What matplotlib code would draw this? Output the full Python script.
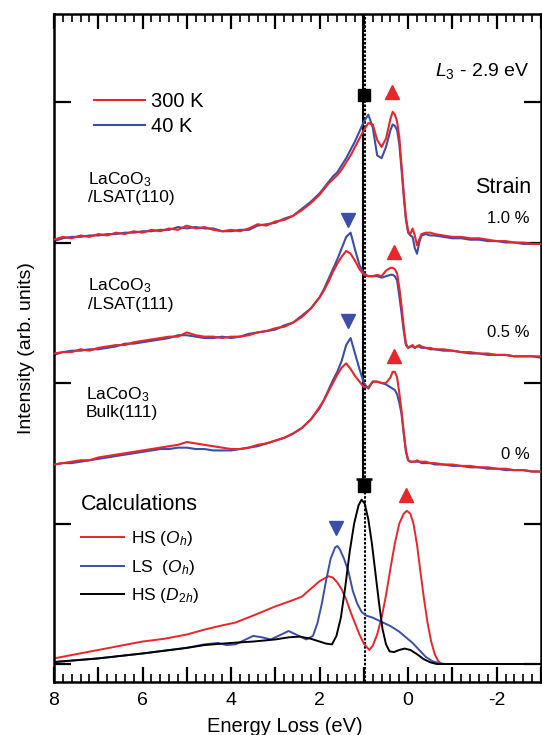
import matplotlib
matplotlib.use('Agg')
import matplotlib.pyplot as plt
from matplotlib.ticker import MultipleLocator, FuncFormatter

plt.rcParams['font.family'] = ['Liberation Sans', 'DejaVu Sans']
plt.rcParams['mathtext.fontset'] = 'custom'
plt.rcParams['mathtext.rm'] = 'Liberation Sans'
plt.rcParams['mathtext.it'] = 'Liberation Sans:italic'
plt.rcParams['mathtext.bf'] = 'Liberation Sans:bold'
plt.rcParams['axes.unicode_minus'] = False

RED = '#e8262b'
BLUE = '#3b4ea8'

# energy grid of the measured spectra (eV)
e_exp = [8.0, 7.8, 7.6, 7.4, 7.2, 7.0, 6.8, 6.6, 6.4, 6.2, 6.0, 5.8, 5.6, 5.4, 5.2, 5.0,
         4.8, 4.6, 4.4, 4.2, 4.0, 3.8, 3.6, 3.4, 3.2, 3.0, 2.8, 2.6, 2.4, 2.2, 2.0,
         1.9, 1.8, 1.7, 1.6, 1.5, 1.4, 1.3, 1.2, 1.1, 1.0, 0.9, 0.8, 0.7, 0.6, 0.5, 0.4,
         0.35, 0.3, 0.25, 0.2, 0.15, 0.1, 0.05, 0.0, -0.05, -0.1, -0.15, -0.2, -0.25, -0.3,
         -0.4, -0.5, -0.6,
         -0.8, -1.0, -1.2, -1.4, -1.6, -1.8, -2.0, -2.2, -2.4, -2.6, -2.8, -3.0]

# LaCoO3/LSAT(110), strain 1.0 %
lsat110_300k = [3.02, 3.04, 3.03, 3.05, 3.04, 3.06, 3.05, 3.07, 3.06, 3.08, 3.07, 3.09, 3.08, 3.10, 3.09, 3.12,
                3.10, 3.11, 3.09, 3.08, 3.09, 3.08, 3.10, 3.13, 3.12, 3.15, 3.16, 3.19, 3.23, 3.28, 3.34,
                3.38, 3.42, 3.45, 3.48, 3.52, 3.57, 3.62, 3.68, 3.74, 3.80, 3.85, 3.84, 3.73, 3.68, 3.74, 3.88,
                3.93, 3.91, 3.86, 3.75, 3.55, 3.35, 3.18, 3.08, 3.06, 3.10, 3.05, 2.98, 3.02, 3.06,
                3.07, 3.07, 3.06,
                3.05, 3.04, 3.04, 3.03, 3.03, 3.02, 3.01, 3.01, 3.00, 3.00, 2.99, 2.99]
lsat110_40k = [3.01, 3.03, 3.04, 3.04, 3.05, 3.05, 3.06, 3.06, 3.07, 3.07, 3.08, 3.08, 3.09, 3.09, 3.11, 3.10,
               3.11, 3.10, 3.10, 3.08, 3.08, 3.09, 3.09, 3.12, 3.13, 3.14, 3.17, 3.19, 3.24, 3.29, 3.35,
               3.39, 3.43, 3.47, 3.50, 3.55, 3.60, 3.66, 3.72, 3.79, 3.86, 3.91, 3.82, 3.62, 3.60, 3.68, 3.80,
               3.84, 3.83, 3.80, 3.70, 3.52, 3.33, 3.16, 3.07, 3.05, 3.04, 2.96, 2.92, 3.00, 3.05,
               3.06, 3.05, 3.05,
               3.04, 3.03, 3.03, 3.02, 3.02, 3.01, 3.01, 3.00, 3.00, 2.99, 2.99, 2.99]

# LaCoO3/LSAT(111), strain 0.5 %
lsat111_300k = [2.21, 2.22, 2.22, 2.24, 2.23, 2.25, 2.26, 2.27, 2.27, 2.29, 2.30, 2.31, 2.32, 2.33, 2.33, 2.36,
                2.34, 2.33, 2.33, 2.32, 2.33, 2.33, 2.34, 2.36, 2.37, 2.39, 2.40, 2.43, 2.47, 2.53, 2.61,
                2.66, 2.72, 2.79, 2.85, 2.90, 2.94, 2.92, 2.87, 2.81, 2.77, 2.76, 2.76, 2.77, 2.76, 2.80, 2.82,
                2.82, 2.81, 2.78, 2.68, 2.55, 2.40, 2.28, 2.25, 2.26, 2.27, 2.25, 2.26, 2.27, 2.26,
                2.25, 2.25, 2.24,
                2.24, 2.23, 2.22, 2.22, 2.21, 2.21, 2.20, 2.20, 2.19, 2.19, 2.19, 2.19]
lsat111_40k = [2.20, 2.22, 2.23, 2.23, 2.24, 2.24, 2.25, 2.26, 2.28, 2.28, 2.29, 2.30, 2.31, 2.32, 2.34, 2.34,
               2.33, 2.32, 2.32, 2.33, 2.32, 2.33, 2.35, 2.36, 2.37, 2.38, 2.41, 2.43, 2.48, 2.53, 2.61,
               2.67, 2.74, 2.81, 2.88, 2.96, 3.04, 3.07, 2.95, 2.84, 2.78, 2.76, 2.76, 2.76, 2.75, 2.76, 2.77,
               2.77, 2.76, 2.73, 2.62, 2.50, 2.37, 2.27, 2.25, 2.26, 2.26, 2.25, 2.26, 2.26, 2.25,
               2.25, 2.24, 2.24,
               2.23, 2.23, 2.22, 2.21, 2.21, 2.20, 2.20, 2.20, 2.19, 2.19, 2.19, 2.18]

# LaCoO3 Bulk(111), strain 0 %
bulk_300k = [1.42, 1.43, 1.44, 1.45, 1.45, 1.47, 1.48, 1.49, 1.50, 1.51, 1.52, 1.53, 1.54, 1.55, 1.56, 1.58,
             1.57, 1.56, 1.55, 1.54, 1.53, 1.53, 1.54, 1.56, 1.57, 1.59, 1.61, 1.64, 1.68, 1.74, 1.83,
             1.88, 1.94, 2.00, 2.06, 2.11, 2.14, 2.10, 2.05, 2.01, 1.97, 1.97, 2.01, 2.01, 2.00, 2.00, 2.04,
             2.08, 2.08, 2.04, 1.93, 1.80, 1.65, 1.52, 1.45, 1.44, 1.44, 1.44, 1.45, 1.44, 1.44,
             1.44, 1.43, 1.43,
             1.42, 1.42, 1.41, 1.41, 1.40, 1.40, 1.39, 1.39, 1.38, 1.38, 1.37, 1.37]
bulk_40k = [1.42, 1.43, 1.43, 1.44, 1.45, 1.46, 1.47, 1.48, 1.49, 1.50, 1.51, 1.52, 1.53, 1.53, 1.54, 1.54,
            1.53, 1.53, 1.52, 1.52, 1.52, 1.53, 1.54, 1.55, 1.57, 1.59, 1.61, 1.64, 1.68, 1.74, 1.82,
            1.88, 1.95, 2.02, 2.08, 2.16, 2.27, 2.32, 2.21, 2.10, 2.00, 1.96, 2.01, 2.01, 2.00, 1.99, 1.97,
            1.96, 1.95, 1.92, 1.86, 1.78, 1.64, 1.51, 1.45, 1.44, 1.44, 1.44, 1.44, 1.44, 1.43,
            1.43, 1.43, 1.42,
            1.42, 1.41, 1.41, 1.40, 1.40, 1.39, 1.39, 1.38, 1.38, 1.38, 1.37, 1.37]

# calculations
e_hs_oh = [8.0, 7.0, 6.0, 5.5, 5.0, 4.6, 4.2, 3.9, 3.5, 3.0, 2.6, 2.4, 2.2, 2.0, 1.8, 1.7, 1.6,
           1.5, 1.4, 1.3, 1.2, 1.1, 1.0, 0.88, 0.8, 0.7, 0.6, 0.5, 0.4, 0.3, 0.2, 0.1, 0.03,
           -0.05, -0.12, -0.2, -0.28, -0.36, -0.44, -0.52, -0.6, -0.68, -0.76, -3.0]
hs_oh = [0.04, 0.10, 0.16, 0.18, 0.21, 0.245, 0.275, 0.295, 0.345, 0.41, 0.455, 0.48, 0.535, 0.59, 0.625, 0.615, 0.58,
         0.53, 0.46, 0.37, 0.29, 0.21, 0.145, 0.10, 0.13, 0.21, 0.33, 0.49, 0.68, 0.86, 1.00, 1.07, 1.09,
         1.07, 1.00, 0.85, 0.65, 0.46, 0.29, 0.16, 0.07, 0.02, 0.0, 0.0]

e_ls_oh = [8.0, 7.0, 6.0, 5.0, 4.6, 4.3, 4.1, 3.9, 3.7, 3.5, 3.3, 3.1, 2.9, 2.7, 2.5, 2.3, 2.15,
           2.05, 1.95, 1.85, 1.75, 1.65, 1.6, 1.55, 1.45, 1.35, 1.25, 1.15, 1.05, 0.95, 0.8, 0.6,
           0.4, 0.2, 0.05, -0.1, -0.25, -0.4, -0.55, -0.7, -0.85, -3.0]
ls_oh = [0.014, 0.04, 0.075, 0.115, 0.14, 0.15, 0.135, 0.14, 0.17, 0.20, 0.19, 0.175, 0.205, 0.235, 0.205, 0.175, 0.20,
         0.29, 0.43, 0.60, 0.75, 0.83, 0.84, 0.82, 0.75, 0.66, 0.52, 0.43, 0.37, 0.345, 0.33, 0.30,
         0.27, 0.23, 0.19, 0.15, 0.10, 0.05, 0.02, 0.005, 0.0, 0.0]

e_hs_d2h = [8.0, 7.0, 6.0, 5.0, 4.6, 4.0, 3.5, 3.0, 2.7, 2.45, 2.2, 2.0, 1.85, 1.72, 1.62, 1.52, 1.42,
            1.32, 1.22, 1.12, 1.05, 0.98, 0.9, 0.82, 0.74, 0.66, 0.58, 0.5, 0.42, 0.32, 0.2, 0.08,
            -0.05, -0.2, -0.35, -0.5, -0.65, -3.0]
hs_d2h = [0.014, 0.04, 0.075, 0.115, 0.135, 0.15, 0.16, 0.175, 0.19, 0.195, 0.18, 0.16, 0.145, 0.14, 0.20, 0.33, 0.55,
          0.80, 1.00, 1.13, 1.17, 1.14, 1.03, 0.86, 0.65, 0.44, 0.25, 0.14, 0.09, 0.085, 0.10, 0.11,
          0.10, 0.07, 0.035, 0.012, 0.0, 0.0]

# peak markers
square_e = [1.0, 1.0]
square_y = [4.05, 1.27]
red_up_e = [0.36, 0.33, 0.33, 0.05]
red_up_y = [4.07, 2.93, 2.19, 1.20]
blue_down_e = [1.35, 1.35, 1.62]
blue_down_y = [3.16, 2.44, 0.965]

fig = plt.figure(figsize=(5.42, 7.35), dpi=100)
ax = fig.add_axes([0.0996, 0.0721, 0.8985, 0.9088])

# vertical reference line at 1 eV
ax.axvline(0.97, color='k', lw=1.5, ls=(0, (1.2, 0.8)), zorder=1)
ax.vlines(1.01, 1.32, 4.7, color='k', lw=1.5, zorder=1)
ax.plot([1.0], [1.32], marker='_', ms=12, mew=1.8, color='k', zorder=1)

spectra = [(lsat110_300k, lsat110_40k), (lsat111_300k, lsat111_40k), (bulk_300k, bulk_40k)]
for hot, cold in spectra:
    lb, = ax.plot(e_exp, cold, color=BLUE, lw=1.5, zorder=2)
    lr, = ax.plot(e_exp, hot, color=RED, lw=1.5, zorder=3)
    if hot is lsat110_300k:
        exp_handles = [lr, lb]

c1, = ax.plot(e_hs_oh, hs_oh, color=RED, lw=1.4, zorder=2)
c2, = ax.plot(e_ls_oh, ls_oh, color=BLUE, lw=1.4, zorder=2)
c3, = ax.plot(e_hs_d2h, hs_d2h, color='k', lw=1.4, zorder=3)

ax.plot(square_e, square_y, 's', color='k', ms=9, zorder=5)
ax.plot(red_up_e, red_up_y, '^', color=RED, ms=10, zorder=5)
ax.plot(blue_down_e, blue_down_y, 'v', color=BLUE, ms=10, zorder=5)

ax.set_xlim(8, -3)
ax.set_ylim(-0.128, 4.626)

leg1 = ax.legend(exp_handles, ['300 K', '40 K'], loc='center left',
                 bbox_to_anchor=(0.083, 0.85), frameon=False, fontsize=14.5,
                 handlelength=2.5, handletextpad=0.3, labelspacing=0.3,
                 borderpad=0, borderaxespad=0)
ax.add_artist(leg1)
ax.legend([c1, c2, c3], ['HS ($O_h$)', 'LS  ($O_h$)', 'HS ($D_{2h}$)'], loc='center left',
          bbox_to_anchor=(0.055, 0.172), frameon=False, fontsize=12.5,
          handlelength=2.5, handletextpad=0.4, labelspacing=0.55,
          borderpad=0, borderaxespad=0)
ax.text(0.055, 0.265, 'Calculations', transform=ax.transAxes, fontsize=15.5,
        ha='left', va='center')

# sample labels
ax.text(7.23, 3.39, 'LaCoO$_3$\n/LSAT(110)', fontsize=12.5, ha='left', va='center', linespacing=1.15)
ax.text(7.23, 2.63, 'LaCoO$_3$\n/LSAT(111)', fontsize=12.5, ha='left', va='center', linespacing=1.15)
ax.text(7.28, 1.86, 'LaCoO$_3$\nBulk(111)', fontsize=12.5, ha='left', va='center', linespacing=1.15)

ax.text(-2.75, 4.22, '$L_3$ - 2.9 eV', fontsize=14, ha='right', va='center')
ax.text(-2.78, 3.39, 'Strain', fontsize=15.5, ha='right', va='center')
ax.text(-2.75, 3.17, '1.0 %', fontsize=12, ha='right', va='center')
ax.text(-2.75, 2.36, '0.5 %', fontsize=12, ha='right', va='center')
ax.text(-2.75, 1.49, '0 %', fontsize=12, ha='right', va='center')

# axes styling
for s in ax.spines.values():
    s.set_linewidth(1.8)
ax.xaxis.set_major_locator(MultipleLocator(1))
ax.xaxis.set_minor_locator(MultipleLocator(0.2))
ax.xaxis.set_major_formatter(FuncFormatter(lambda v, p: '%d' % round(v) if round(v) % 2 == 0 else ''))
ax.tick_params(axis='x', which='major', direction='in', top=True, bottom=True,
               length=11, width=1.6, labelsize=14, pad=7)
ax.tick_params(axis='x', which='minor', direction='in', top=True, bottom=True,
               length=6, width=1.2)
ax.set_yticks([0, 1, 2, 3, 4])
ax.set_yticklabels([])
ax.tick_params(axis='y', direction='in', left=True, right=True, length=12, width=1.6)

ax.set_xlabel('Energy Loss (eV)', fontsize=14.5)
ax.xaxis.set_label_coords(0.475, -0.052)
ax.set_ylabel('Intensity (arb. units)', fontsize=14)
ax.yaxis.set_label_coords(-0.04, 0.5)

fig.savefig('out.png', dpi=100)
